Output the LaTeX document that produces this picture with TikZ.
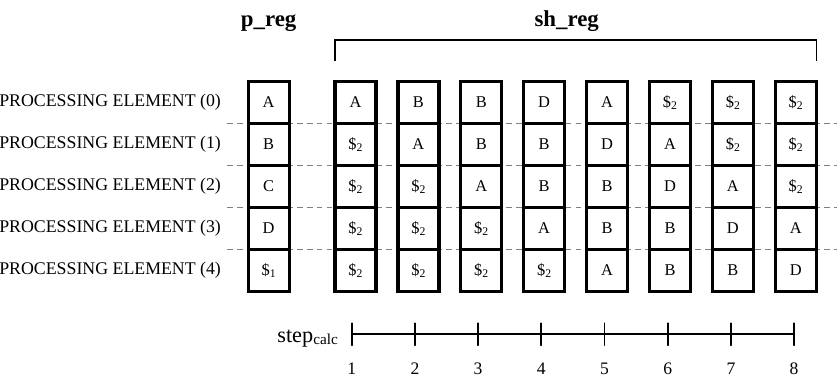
\documentclass[tikz,border=0pt]{standalone}
\usepackage{fontspec}
\setmainfont{Liberation Serif}
\usepackage{tikz}
\usetikzlibrary{positioning}

\newcommand{\dsub}[1]{{\fontsize{10}{11}\selectfont\raisebox{-0.4ex}{#1}}}
\newcommand{\dol}[1]{\$\dsub{#1}}

\begin{document}
\begin{tikzpicture}[line cap=round,node distance=0pt,
  cell/.style={draw,line width=2.8pt,minimum width=1.23cm,minimum height=1.26cm,
    inner sep=0pt,outer sep=0pt,fill=white,font=\fontsize{14}{16}\selectfont},
  pelabel/.style={inner sep=0pt,font=\fontsize{15.2}{18}\selectfont},
  regtitle/.style={inner sep=0pt,anchor=base,font=\fontsize{19.5}{22}\selectfont\bfseries},
  sep/.style={gray,line width=0.8pt,dash pattern=on 5pt off 3.5pt,line cap=butt},
  num/.style={inner sep=0pt,anchor=base,font=\fontsize{15}{18}\selectfont}]
\useasboundingbox (0,0) rectangle (25.11,11.4);
% separators between the processing elements
\draw[sep] (6.81,7.695) -- (25.11,7.695);
\draw[sep] (6.81,6.435) -- (25.11,6.435);
\draw[sep] (6.81,5.175) -- (25.11,5.175);
\draw[sep] (6.81,3.915) -- (25.11,3.915);
% p_reg
\node[cell] (p0) at (8.06,8.325) {A};
\node[cell,below=of p0] (p1) {B};
\node[cell,below=of p1] (p2) {C};
\node[cell,below=of p2] (p3) {D};
\node[cell,below=of p3] (p4) {\dol{1}};
\node[pelabel,left=0.81cm of p0] (pe0) {PROCESSING ELEMENT (0)};
\node[pelabel,left=0.81cm of p1] (pe1) {PROCESSING ELEMENT (1)};
\node[pelabel,left=0.81cm of p2] (pe2) {PROCESSING ELEMENT (2)};
\node[pelabel,left=0.81cm of p3] (pe3) {PROCESSING ELEMENT (3)};
\node[pelabel,left=0.81cm of p4] (pe4) {PROCESSING ELEMENT (4)};
% sh_reg, one column per step
\node[cell,right=1.374cm of p0] (s1-0) {A};
\node[cell,below=of s1-0] (s1-1) {\dol{2}};
\node[cell,below=of s1-1] (s1-2) {\dol{2}};
\node[cell,below=of s1-2] (s1-3) {\dol{2}};
\node[cell,below=of s1-3] (s1-4) {\dol{2}};
\node[cell,right=0.657cm of s1-0] (s2-0) {B};
\node[cell,below=of s2-0] (s2-1) {A};
\node[cell,below=of s2-1] (s2-2) {\dol{2}};
\node[cell,below=of s2-2] (s2-3) {\dol{2}};
\node[cell,below=of s2-3] (s2-4) {\dol{2}};
\node[cell,right=0.657cm of s2-0] (s3-0) {B};
\node[cell,below=of s3-0] (s3-1) {B};
\node[cell,below=of s3-1] (s3-2) {A};
\node[cell,below=of s3-2] (s3-3) {\dol{2}};
\node[cell,below=of s3-3] (s3-4) {\dol{2}};
\node[cell,right=0.657cm of s3-0] (s4-0) {D};
\node[cell,below=of s4-0] (s4-1) {B};
\node[cell,below=of s4-1] (s4-2) {B};
\node[cell,below=of s4-2] (s4-3) {A};
\node[cell,below=of s4-3] (s4-4) {\dol{2}};
\node[cell,right=0.657cm of s4-0] (s5-0) {A};
\node[cell,below=of s5-0] (s5-1) {D};
\node[cell,below=of s5-1] (s5-2) {B};
\node[cell,below=of s5-2] (s5-3) {B};
\node[cell,below=of s5-3] (s5-4) {A};
\node[cell,right=0.657cm of s5-0] (s6-0) {\dol{2}};
\node[cell,below=of s6-0] (s6-1) {A};
\node[cell,below=of s6-1] (s6-2) {D};
\node[cell,below=of s6-2] (s6-3) {B};
\node[cell,below=of s6-3] (s6-4) {B};
\node[cell,right=0.657cm of s6-0] (s7-0) {\dol{2}};
\node[cell,below=of s7-0] (s7-1) {\dol{2}};
\node[cell,below=of s7-1] (s7-2) {A};
\node[cell,below=of s7-2] (s7-3) {D};
\node[cell,below=of s7-3] (s7-4) {B};
\node[cell,right=0.657cm of s7-0] (s8-0) {\dol{2}};
\node[cell,below=of s8-0] (s8-1) {\dol{2}};
\node[cell,below=of s8-1] (s8-2) {\dol{2}};
\node[cell,below=of s8-2] (s8-3) {A};
\node[cell,below=of s8-3] (s8-4) {D};
% titles and bracket
\node[regtitle] (ptitle) at (8.06,10.59) {p\_reg};
\node[regtitle] (shtitle) at (17.0,10.59) {sh\_reg};
\draw[line width=1.3pt,line cap=butt] ([yshift=0.615cm]s1-0.north west) -- ++(0,0.63)
  -| ([yshift=0.615cm]s8-0.north east);
% step axis
\coordinate (t1) at (10.551,1.371);
\coordinate (t2) at (12.447,1.371);
\coordinate (t3) at (14.343,1.371);
\coordinate (t4) at (16.239,1.371);
\coordinate (t5) at (18.135,1.371);
\coordinate (t6) at (20.031,1.371);
\coordinate (t7) at (21.927,1.371);
\coordinate (t8) at (23.823,1.371);
\draw[line width=1.5pt] (t1) -- (t8);
\draw[line width=1.5pt] ([yshift=-0.33cm]t1) -- ([yshift=0.33cm]t1);
\draw[line width=1.5pt] ([yshift=-0.33cm]t2) -- ([yshift=0.33cm]t2);
\draw[line width=1.5pt] ([yshift=-0.33cm]t3) -- ([yshift=0.33cm]t3);
\draw[line width=1.5pt] ([yshift=-0.33cm]t4) -- ([yshift=0.33cm]t4);
\draw[line width=1.5pt] ([yshift=-0.33cm]t5) -- ([yshift=0.33cm]t5);
\draw[line width=1.5pt] ([yshift=-0.33cm]t6) -- ([yshift=0.33cm]t6);
\draw[line width=1.5pt] ([yshift=-0.33cm]t7) -- ([yshift=0.33cm]t7);
\draw[line width=1.5pt] ([yshift=-0.33cm]t8) -- ([yshift=0.33cm]t8);
\node[num] (n1) at ([yshift=-1.22cm]t1) {1};
\node[num] (n2) at ([yshift=-1.22cm]t2) {2};
\node[num] (n3) at ([yshift=-1.22cm]t3) {3};
\node[num] (n4) at ([yshift=-1.22cm]t4) {4};
\node[num] (n5) at ([yshift=-1.22cm]t5) {5};
\node[num] (n6) at ([yshift=-1.22cm]t6) {6};
\node[num] (n7) at ([yshift=-1.22cm]t7) {7};
\node[num] (n8) at ([yshift=-1.22cm]t8) {8};
\node[inner sep=0pt,anchor=base east,font=\fontsize{19}{22}\selectfont] (steplbl)
  at (10.14,1.14) {step{\fontsize{13}{14}\selectfont\raisebox{-0.3ex}{calc}}};
\end{tikzpicture}
\end{document}
